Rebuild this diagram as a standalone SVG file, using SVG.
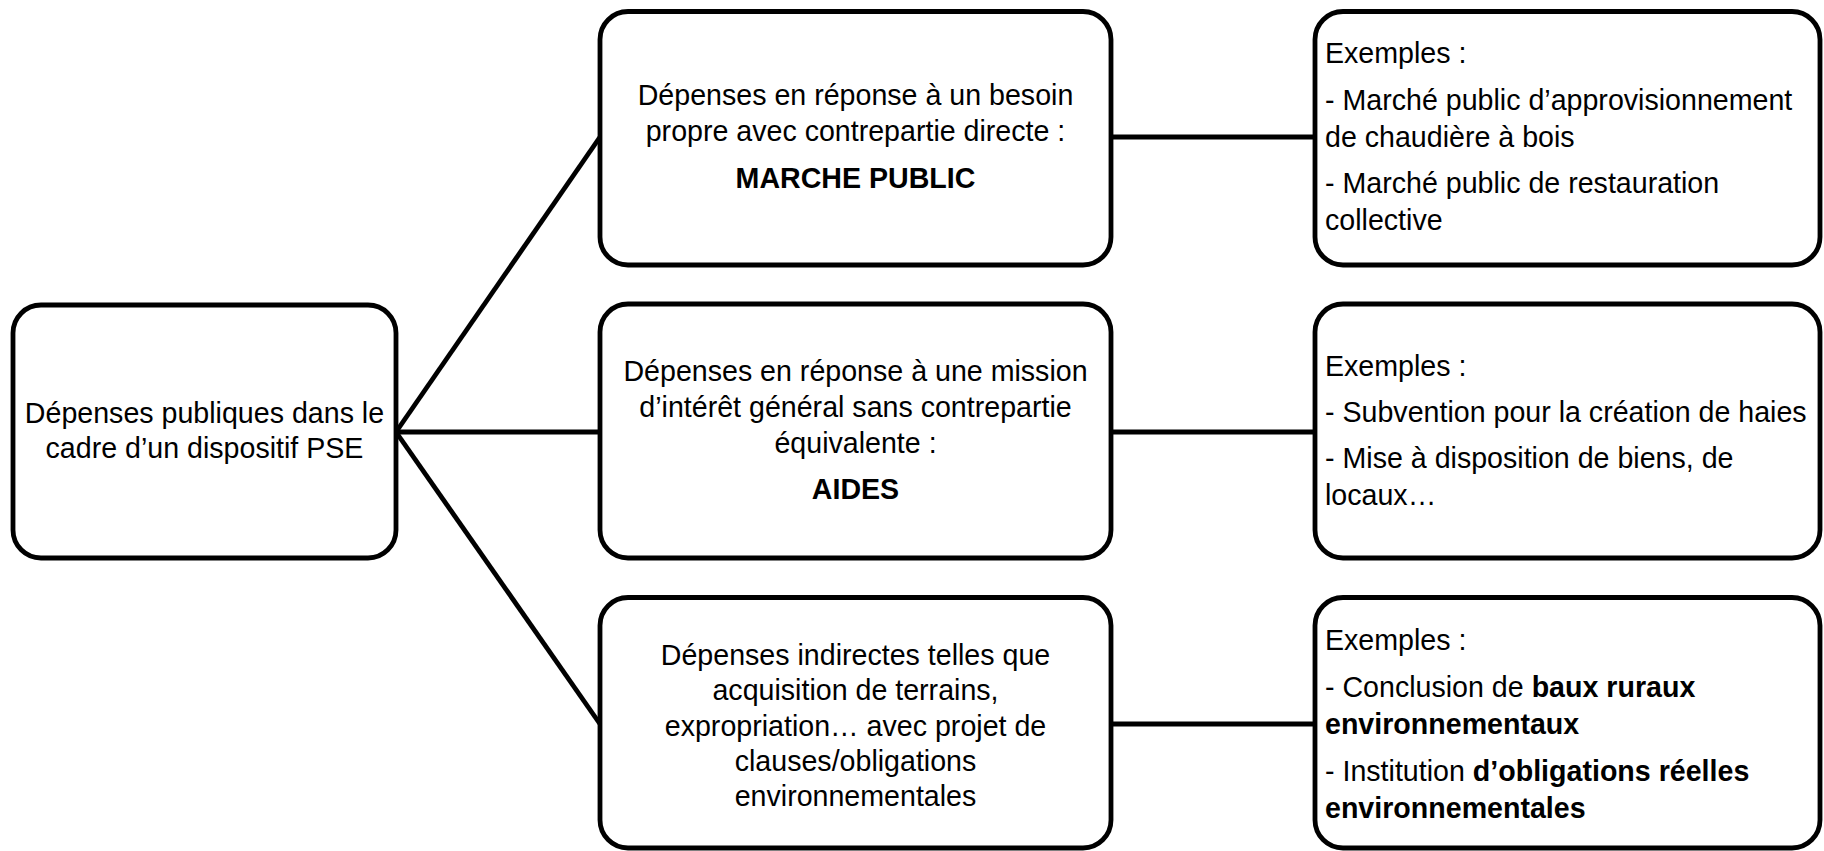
<svg xmlns="http://www.w3.org/2000/svg" width="1824" height="851" viewBox="0 0 1824 851">
<style>
.box{fill:#fff;stroke:#000;stroke-width:4.8}
.conn line{stroke:#000;stroke-width:4.8;stroke-linecap:butt}
text{font-family:"Liberation Sans",Arial,sans-serif;font-size:28.6px;fill:#000}
.c{text-anchor:middle}
.b{font-weight:bold}
</style>
<rect width="1824" height="851" fill="#fff"/>
<g id="connectors" class="conn">
<line x1="396" y1="432" x2="600" y2="137"/>
<line x1="396" y1="432" x2="600" y2="432"/>
<line x1="396" y1="432" x2="600" y2="724"/>
<line x1="1111" y1="137" x2="1315" y2="137"/>
<line x1="1111" y1="432" x2="1315" y2="432"/>
<line x1="1111" y1="724" x2="1315" y2="724"/>
</g>
<g id="root">
<rect class="box" x="13" y="305" width="383" height="253" rx="28"/>
<text class="c" x="204.5" y="423">Dépenses publiques dans le</text>
<text class="c" x="204.5" y="458">cadre d’un dispositif PSE</text>
</g>
<g id="marche">
<rect class="box" x="600" y="11.5" width="511" height="253.5" rx="28"/>
<text class="c" x="855.5" y="105">Dépenses en réponse à un besoin</text>
<text class="c" x="855.5" y="141">propre avec contrepartie directe :</text>
<text class="c b" x="855.5" y="188">MARCHE PUBLIC</text>
</g>
<g id="aides">
<rect class="box" x="600" y="304" width="511" height="254" rx="28"/>
<text class="c" x="855.5" y="381">Dépenses en réponse à une mission</text>
<text class="c" x="855.5" y="417">d’intérêt général sans contrepartie</text>
<text class="c" x="855.5" y="453">équivalente :</text>
<text class="c b" x="855.5" y="499">AIDES</text>
</g>
<g id="indirectes">
<rect class="box" x="600" y="597.5" width="511" height="250.5" rx="28"/>
<text class="c" x="855.5" y="665">Dépenses indirectes telles que</text>
<text class="c" x="855.5" y="700">acquisition de terrains,</text>
<text class="c" x="855.5" y="736">expropriation… avec projet de</text>
<text class="c" x="855.5" y="771">clauses/obligations</text>
<text class="c" x="855.5" y="806">environnementales</text>
</g>
<g id="ex-marche">
<rect class="box" x="1315" y="11.5" width="505" height="253.5" rx="28"/>
<text x="1325" y="63">Exemples :</text>
<text x="1325" y="110">- Marché public d’approvisionnement</text>
<text x="1325" y="147">de chaudière à bois</text>
<text x="1325" y="193">- Marché public de restauration</text>
<text x="1325" y="230">collective</text>
</g>
<g id="ex-aides">
<rect class="box" x="1315" y="304" width="505" height="254" rx="28"/>
<text x="1325" y="376">Exemples :</text>
<text x="1325" y="422">- Subvention pour la création de haies</text>
<text x="1325" y="468">- Mise à disposition de biens, de</text>
<text x="1325" y="505">locaux…</text>
</g>
<g id="ex-indirectes">
<rect class="box" x="1315" y="597.5" width="505" height="250.5" rx="28"/>
<text x="1325" y="650">Exemples :</text>
<text x="1325" y="697">- Conclusion de <tspan class="b">baux ruraux</tspan></text>
<text class="b" x="1325" y="734">environnementaux</text>
<text x="1325" y="781">- Institution <tspan class="b">d’obligations réelles</tspan></text>
<text class="b" x="1325" y="818">environnementales</text>
</g>
</svg>
